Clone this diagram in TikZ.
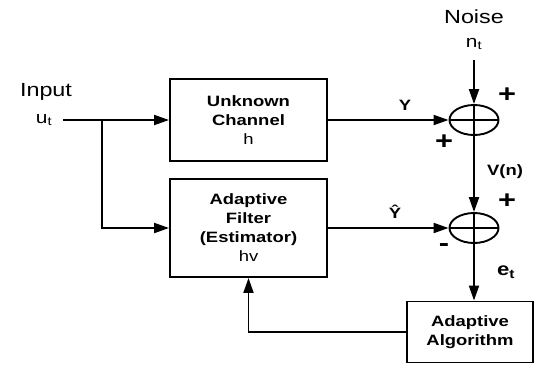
\documentclass[tikz,border=0pt]{standalone}
\usepackage{fontspec}
\setmainfont{Liberation Sans}[FakeStretch=1.23]
\usetikzlibrary{arrows.meta,shapes.geometric}
\tikzset{
  block/.style={draw, line width=1.9pt, inner sep=0pt, align=center,
    font=\fontsize{15}{19}\selectfont\bfseries},
  summer/.style={draw, ellipse, line width=1.9pt, minimum width=49pt,
    minimum height=30pt, inner sep=0pt},
  wire/.style={line width=1.9pt},
  flow/.style={wire, -{Triangle[length=15pt,width=10pt]}},
  lbl/.style={inner sep=0pt, font=\fontsize{19}{22}\selectfont},
  sig/.style={inner sep=0pt, font=\fontsize{15}{17}\selectfont\bfseries},
  sgn/.style={inner sep=0pt, font=\fontsize{25}{27}\selectfont\bfseries},
}
\begin{document}
\begin{tikzpicture}[x=1pt, y=-1pt]
\useasboundingbox (0,0) rectangle (544,365);

% blocks
\node[block, minimum width=157pt, minimum height=82pt] (chan) at (248.5,120)
  {Unknown\\Channel\\\mdseries h};
\node[block, minimum width=157pt, minimum height=98pt] (filt) at (248.5,228)
  {Adaptive\\Filter\\(Estimator)\\\mdseries hv};
\node[block, minimum width=126pt, minimum height=61pt] (algo) at (470,332)
  {Adaptive\\Algorithm};

% summing junctions
\node[summer] (sum1) at (474,120) {};
\node[summer] (sum2) at (474,228) {};
\draw[wire] (sum1.west) -- (sum1.east) (sum1.north) -- (sum1.south);
\draw[wire] (sum2.west) -- (sum2.east) (sum2.north) -- (sum2.south);

% input and noise labels
\node[lbl] (inlbl) at (46,92) {Input};
\node[lbl, font=\fontsize{17}{20}\selectfont] (ut) at (44,120) {u\textsubscript{t}};
\node[lbl] (noiselbl) at (474,17) {Noise};
\node[lbl, font=\fontsize{17}{20}\selectfont] (nt) at (474,44) {n\textsubscript{t}};
\coordinate (nsrc) at (474,60);
\coordinate (insrc) at (63,120);
\coordinate (split) at (102,120);

% connectors
\draw[flow] (insrc) -- (chan.west);
\draw[flow] (split) |- (filt.west);
\draw[flow] (chan.east) -- (sum1.west);
\draw[flow] (filt.east) -- (sum2.west);
\draw[flow] (nsrc) -- (sum1.north);
\draw[flow] (sum1.south) -- (sum2.north);
\draw[flow] (sum2.south) -- (sum2.south |- algo.north);
\draw[flow] (algo.west) -| (filt.south);

% signal labels
\node[sig] (ylbl) at (405,105) {Y};
\node[sig] (yhat) at (395,212) {\^{Y}};
\node[sig] (vn) at (505,172) {V(n)};
\node[sig, font=\fontsize{18}{20}\selectfont\bfseries] (et) at (506,272) {e\textsubscript{t}};

% signs
\node[sgn] (p1) at (507,95) {+};
\node[sgn] (p2) at (444,142) {+};
\node[sgn] (p3) at (507,201) {+};
\node[sgn] (m1) at (444,248) {-};
\end{tikzpicture}
\end{document}
